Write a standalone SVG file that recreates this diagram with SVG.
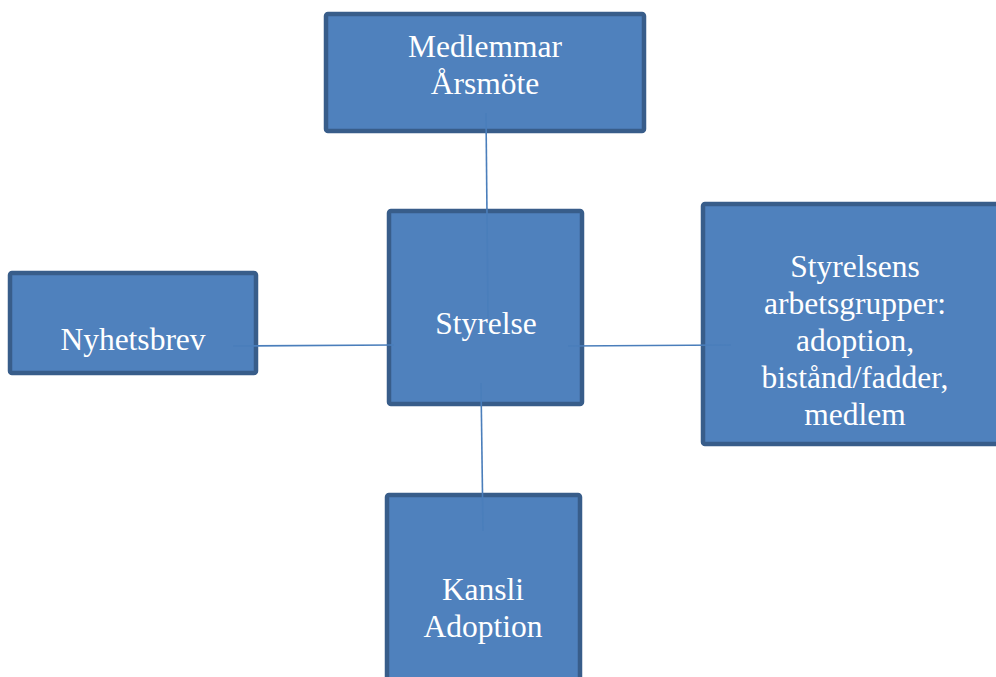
<svg xmlns="http://www.w3.org/2000/svg" width="996" height="677" viewBox="0 0 996 677">
<style>
.box{fill:#4F81BD;stroke:#385D8A;stroke-width:4.5}
.lbl{font-family:"Liberation Serif","Times New Roman",serif;font-size:31.5px;fill:#FFFFFF;text-anchor:middle}
.con{stroke:#4A7EBB;stroke-width:1.6;fill:none}
</style>
<rect width="996" height="677" fill="#FFFFFF"/>
<g id="node-medlemmar">
<rect class="box" x="326" y="14" width="318" height="117" rx="2"/>
<text class="lbl" x="485" y="57">Medlemmar</text>
<text class="lbl" x="485" y="94">Årsmöte</text>
</g>
<g id="node-styrelse">
<rect class="box" x="389" y="211" width="193" height="193" rx="2"/>
<text class="lbl" x="486" y="334">Styrelse</text>
</g>
<g id="node-arbetsgrupper">
<rect class="box" x="703" y="204" width="300" height="240" rx="2"/>
<text class="lbl" x="855" y="277">Styrelsens</text>
<text class="lbl" x="855" y="314">arbetsgrupper:</text>
<text class="lbl" x="855" y="351">adoption,</text>
<text class="lbl" x="855" y="388">bistånd/fadder,</text>
<text class="lbl" x="855" y="425">medlem</text>
</g>
<g id="node-nyhetsbrev">
<rect class="box" x="10" y="273" width="246" height="100" rx="2"/>
<text class="lbl" x="133" y="350">Nyhetsbrev</text>
</g>
<g id="node-kansli">
<rect class="box" x="387" y="495" width="193" height="200" rx="2"/>
<text class="lbl" x="483" y="600">Kansli</text>
<text class="lbl" x="483" y="637">Adoption</text>
</g>
<g id="connectors">
<line class="con" x1="486" y1="113" x2="488" y2="318"/>
<line class="con" x1="233" y1="346" x2="394" y2="345"/>
<line class="con" x1="568" y1="346" x2="731" y2="345"/>
<line class="con" x1="481" y1="383" x2="483" y2="531"/>
</g>
</svg>
